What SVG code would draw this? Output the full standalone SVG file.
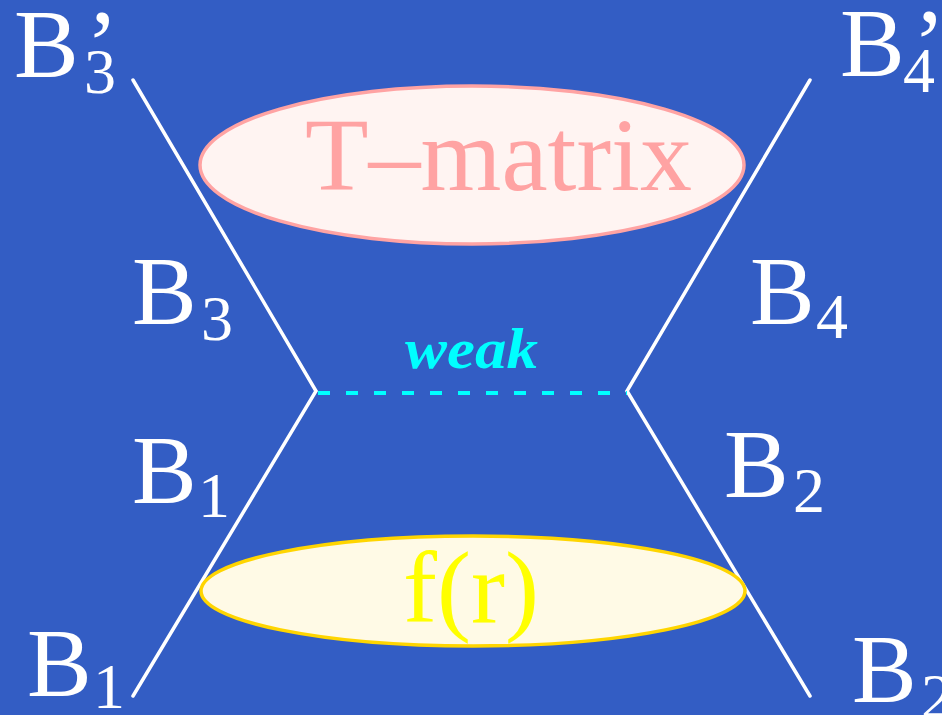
<svg xmlns="http://www.w3.org/2000/svg" width="942" height="715" viewBox="0 0 942 715">
<style>
.lbl{font-family:"Liberation Serif","Times New Roman",serif;fill:#ffffff}
.big{font-size:97px}
.sub{font-size:64px}
.leg{stroke:#ffffff;stroke-width:3.5;fill:none;stroke-linecap:round}
</style>
<rect x="0" y="0" width="942" height="715" fill="#335DC4"/>
<g id="connectors">
<polyline class="leg" points="133,80 316,391 133,696"/>
<polyline class="leg" points="810,80 627,391 810,696"/>
<line x1="318" y1="393" x2="627" y2="393" stroke="#00FFFF" stroke-width="4" stroke-dasharray="12,16"/>
<text x="405" y="368" font-family="'Liberation Serif',serif" font-weight="bold" font-style="italic" font-size="56" fill="#00FFFF" textLength="133" lengthAdjust="spacingAndGlyphs">weak</text>
</g>
<g id="tmatrix">
<ellipse cx="472" cy="165" rx="272" ry="79" fill="#FFF4F2" stroke="#FFA3A3" stroke-width="3.5"/>
<text x="305" y="190" font-family="'Liberation Serif',serif" font-size="104" fill="#FFA3A3">T–matrix</text>
</g>
<g id="fr">
<ellipse cx="473" cy="591" rx="272" ry="55" fill="#FFFAE6" stroke="#FFD500" stroke-width="3.5"/>
<text x="471" y="622" text-anchor="middle" font-family="'Liberation Serif',serif" font-size="102" fill="#FFFF00">f(r)</text>
</g>
<g id="B3p"><text class="lbl big" x="14" y="77">B</text><text class="lbl sub" x="84" y="93">3</text><text class="lbl big" x="86" y="77">’</text></g>
<g id="B4p"><text class="lbl big" x="840" y="76">B</text><text class="lbl sub" x="903" y="92">4</text><text class="lbl big" x="913" y="76">’</text></g>
<g id="B3"><text class="lbl big" x="132" y="324">B</text><text class="lbl sub" x="201" y="340">3</text></g>
<g id="B4"><text class="lbl big" x="750" y="324">B</text><text class="lbl sub" x="816" y="338">4</text></g>
<g id="B1"><text class="lbl big" x="132" y="503">B</text><text class="lbl sub" x="198" y="517">1</text></g>
<g id="B2"><text class="lbl big" x="724" y="497">B</text><text class="lbl sub" x="793" y="512">2</text></g>
<g id="B1b"><text class="lbl big" x="27" y="696">B</text><text class="lbl sub" x="93" y="708">1</text></g>
<g id="B2b"><text class="lbl big" x="852" y="702">B</text><text class="lbl sub" x="921" y="718">2</text></g>
</svg>
